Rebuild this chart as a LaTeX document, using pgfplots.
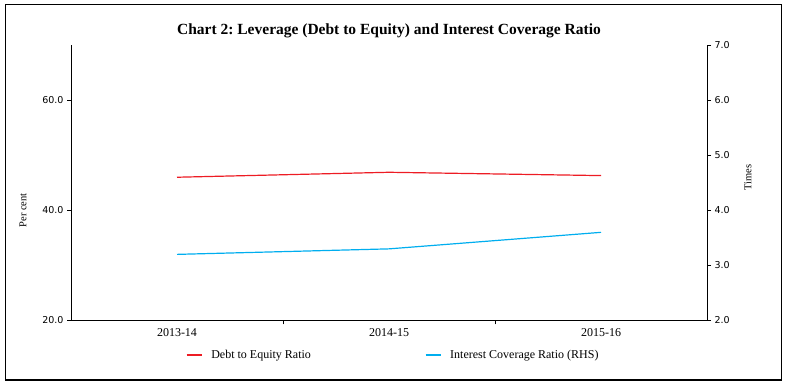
\documentclass[border=0pt]{standalone}
\usepackage{pgfplots}
\pgfplotsset{compat=1.18}
\usepackage{fontspec}
\setmainfont{Liberation Serif}
\newfontfamily\tickfont{DejaVu Sans}
\definecolor{dred}{RGB}{237,28,36}
\definecolor{icblue}{RGB}{0,174,239}
\frenchspacing
\begin{document}
\begin{tikzpicture}[x=1pt,y=1pt]
\path[use as bounding box] (0,0) rectangle (786,385);
\draw[line width=1pt] (5,5) rectangle (781,380);
\node[font=\bfseries\fontsize{15.5}{17}\selectfont] at (389,354) {Chart 2: Leverage (Debt to Equity) and Interest Coverage Ratio};
\begin{axis}[
  at={(71pt,64.5pt)}, anchor=south west,
  scale only axis, width=636pt, height=275.5pt,
  xmin=-0.5, xmax=2.5, ymin=20, ymax=70,
  axis x line=bottom, axis y line=left,
  axis line style={-, line width=0.8pt},
  tick align=outside, major tick length=4pt,
  tick style={black, line width=0.8pt},
  xtick={0.5,1.5}, xticklabels={},
  extra x ticks={0,1,2}, extra x tick labels={2013-14,2014-15,2015-16},
  extra x tick style={major tick length=0pt, tick label style={font=\fontsize{12}{12}\selectfont, yshift=-4pt}},
  ytick={20,40,60},
  /pgf/number format/assume math mode=true,
  yticklabel style={font=\tickfont\fontsize{9.5}{9.5}\selectfont,
    /pgf/number format/fixed, /pgf/number format/fixed zerofill, /pgf/number format/precision=1},
  ylabel={Per cent},
  every axis y label/.style={at={([xshift=-48pt]axis description cs:0,0.40)}, rotate=90, anchor=center, font=\fontsize{10.5}{11}\selectfont},
  legend style={at={(axis description cs:0.176,-0.125)}, anchor=west, draw=none, fill=none,
    font=\fontsize{12}{12}\selectfont, legend columns=2,
    /tikz/every even column/.append style={column sep=112pt}},
  legend image code/.code={\draw[#1] (0pt,0pt) -- (15pt,0pt); \path (22pt,0pt);},
]
\addplot[dred, line width=1.2pt] coordinates {(0,46.0) (1,46.9) (2,46.3)};
\addlegendentry{Debt to Equity Ratio}
\addlegendimage{icblue, line width=1.2pt}
\addlegendentry{Interest Coverage Ratio (RHS)}
\end{axis}
\begin{axis}[
  at={(71pt,64.5pt)}, anchor=south west,
  scale only axis, width=636pt, height=275.5pt,
  xmin=-0.5, xmax=2.5, ymin=2, ymax=7,
  axis x line=none, axis y line=right,
  axis line style={-, line width=0.8pt},
  tick align=outside, major tick length=4pt,
  tick style={black, line width=0.8pt},
  ytick={2,3,4,5,6,7},
  /pgf/number format/assume math mode=true,
  yticklabel style={font=\tickfont\fontsize{9.5}{9.5}\selectfont,
    /pgf/number format/fixed, /pgf/number format/fixed zerofill, /pgf/number format/precision=1},
  ylabel={Times},
  every axis y label/.style={at={([xshift=41pt]axis description cs:1,0.52)}, rotate=90, anchor=center, font=\fontsize{10.5}{11}\selectfont},
]
\addplot[icblue, line width=1.2pt] coordinates {(0,3.2) (1,3.3) (2,3.6)};
\end{axis}
\end{tikzpicture}
\end{document}
